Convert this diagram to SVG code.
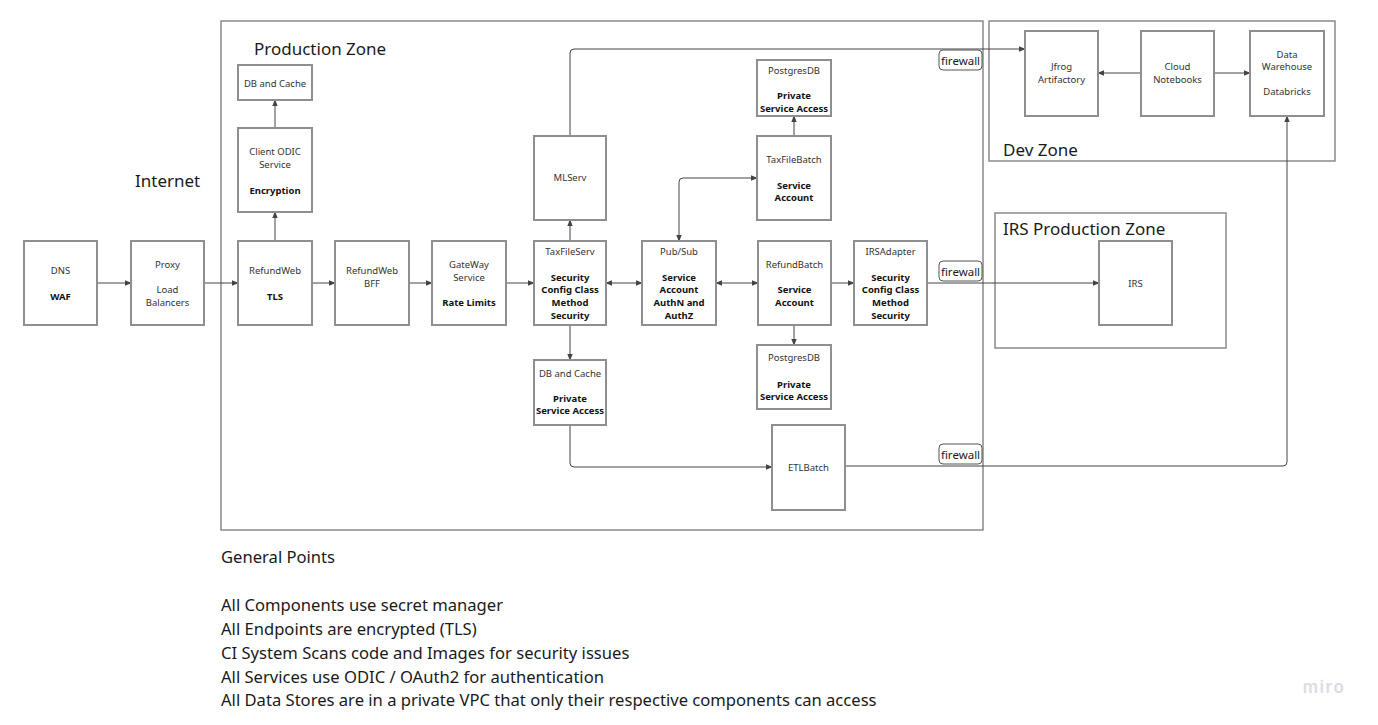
<svg xmlns="http://www.w3.org/2000/svg" width="1378" height="725" viewBox="0 0 1378 725">
<style>
.zone{fill:none;stroke:#8a8a8a;stroke-width:1.5}
.node{fill:#fff;stroke:#8f8f8f;stroke-width:2}
.t{font-family:"Noto Sans","Open Sans",sans-serif;font-size:9.5px;fill:#333;text-anchor:middle}
.b{font-family:"Noto Sans","Open Sans",sans-serif;font-size:9.5px;fill:#111;font-weight:bold;text-anchor:middle}
.zt{font-family:"Noto Sans","Open Sans",sans-serif;font-size:17px;fill:#1a1a1a}
.gp{font-family:"Noto Sans","Open Sans",sans-serif;font-size:16.6px;fill:#1a1a1a}
.fw{fill:#fff;stroke:#555;stroke-width:1}
.fwt{font-family:"Noto Sans","Open Sans",sans-serif;font-size:11.5px;fill:#1a1a1a;text-anchor:middle}
.c{fill:none;stroke:#444;stroke-width:1}
</style>
<defs>
<marker id="ah" viewBox="0 0 10 10" refX="9" refY="5" markerWidth="7" markerHeight="7" orient="auto-start-reverse" markerUnits="userSpaceOnUse">
<path d="M0,1 L10,5 L0,9 z" fill="#444"/>
</marker>
</defs>
<rect width="1378" height="725" fill="#fff"/>

<g id="zones">
<rect class="zone" x="221" y="21" width="762" height="509"/>
<text class="zt" x="254" y="55">Production Zone</text>
<rect class="zone" x="989" y="21" width="346" height="140"/>
<text class="zt" x="1003" y="156">Dev Zone</text>
<rect class="zone" x="995" y="213" width="231" height="135"/>
<text class="zt" x="1003" y="235">IRS Production Zone</text>
<text class="zt" x="135" y="187">Internet</text>
</g>

<g id="connectors">
<line class="c" x1="97" y1="283" x2="131" y2="283" marker-end="url(#ah)"/>
<line class="c" x1="204" y1="283" x2="238" y2="283" marker-end="url(#ah)"/>
<line class="c" x1="312" y1="283" x2="335" y2="283" marker-end="url(#ah)"/>
<line class="c" x1="409" y1="283" x2="432" y2="283" marker-end="url(#ah)"/>
<line class="c" x1="506" y1="283" x2="534" y2="283" marker-end="url(#ah)"/>
<line class="c" x1="606" y1="283" x2="642" y2="283" marker-start="url(#ah)" marker-end="url(#ah)"/>
<line class="c" x1="716" y1="283" x2="758" y2="283" marker-start="url(#ah)" marker-end="url(#ah)"/>
<line class="c" x1="831" y1="283" x2="854" y2="283" marker-end="url(#ah)"/>
<line class="c" x1="927" y1="283" x2="1099" y2="283" marker-end="url(#ah)"/>
<line class="c" x1="275" y1="241" x2="275" y2="212" marker-end="url(#ah)"/>
<line class="c" x1="275" y1="128" x2="275" y2="100" marker-end="url(#ah)"/>
<line class="c" x1="570" y1="241" x2="570" y2="220" marker-end="url(#ah)"/>
<line class="c" x1="570" y1="325" x2="570" y2="360" marker-end="url(#ah)"/>
<path class="c" d="M570,136 V53 Q570,49 574,49 H1025" marker-end="url(#ah)"/>
<line class="c" x1="794" y1="136" x2="794" y2="116" marker-end="url(#ah)"/>
<path class="c" d="M679,241 V182 Q679,178 683,178 H757" marker-start="url(#ah)" marker-end="url(#ah)"/>
<line class="c" x1="794" y1="325" x2="794" y2="345" marker-end="url(#ah)"/>
<path class="c" d="M570,425 V463 Q570,467 574,467 H772" marker-end="url(#ah)"/>
<path class="c" d="M845,466 H1283 Q1287,466 1287,462 V116" marker-end="url(#ah)"/>
<line class="c" x1="1141" y1="73" x2="1098" y2="73" marker-end="url(#ah)"/>
<line class="c" x1="1214" y1="73" x2="1250" y2="73" marker-end="url(#ah)"/>
</g>

<g id="firewall1"><rect class="fw" x="939" y="50" width="43" height="20" rx="4"/><text class="fwt" x="960.5" y="64.5">firewall</text></g>
<g id="firewall2"><rect class="fw" x="939" y="261" width="43" height="20" rx="4"/><text class="fwt" x="960.5" y="275.5">firewall</text></g>
<g id="firewall3"><rect class="fw" x="939" y="444" width="43" height="20" rx="4"/><text class="fwt" x="960.5" y="458.5">firewall</text></g>

<g id="dns"><rect class="node" x="24" y="241" width="73" height="84"/><text class="t" x="60.5" y="274">DNS</text><text class="b" x="60.5" y="300">WAF</text></g>
<g id="proxy"><rect class="node" x="131" y="241" width="73" height="84"/><text class="t" x="167.5" y="268">Proxy</text><text class="t" x="167.5" y="293">Load</text><text class="t" x="167.5" y="306">Balancers</text></g>
<g id="refundweb"><rect class="node" x="238" y="241" width="74" height="84"/><text class="t" x="275" y="274">RefundWeb</text><text class="b" x="275" y="300">TLS</text></g>
<g id="refundwebbff"><rect class="node" x="335" y="241" width="74" height="84"/><text class="t" x="372" y="274">RefundWeb</text><text class="t" x="372" y="287">BFF</text></g>
<g id="gateway"><rect class="node" x="432" y="241" width="74" height="84"/><text class="t" x="469" y="268">GateWay</text><text class="t" x="469" y="281">Service</text><text class="b" x="469" y="306">Rate Limits</text></g>
<g id="taxfileserv"><rect class="node" x="534" y="241" width="72" height="84"/><text class="t" x="570" y="255">TaxFileServ</text><text class="b" x="570" y="281">Security</text><text class="b" x="570" y="293">Config Class</text><text class="b" x="570" y="306">Method</text><text class="b" x="570" y="319">Security</text></g>
<g id="pubsub"><rect class="node" x="642" y="241" width="74" height="84"/><text class="t" x="679" y="255">Pub/Sub</text><text class="b" x="679" y="281">Service</text><text class="b" x="679" y="293">Account</text><text class="b" x="679" y="306">AuthN and</text><text class="b" x="679" y="319">AuthZ</text></g>
<g id="refundbatch"><rect class="node" x="758" y="241" width="73" height="84"/><text class="t" x="794.5" y="268">RefundBatch</text><text class="b" x="794.5" y="293">Service</text><text class="b" x="794.5" y="306">Account</text></g>
<g id="irsadapter"><rect class="node" x="854" y="241" width="73" height="84"/><text class="t" x="890.5" y="255">IRSAdapter</text><text class="b" x="890.5" y="281">Security</text><text class="b" x="890.5" y="293">Config Class</text><text class="b" x="890.5" y="306">Method</text><text class="b" x="890.5" y="319">Security</text></g>
<g id="dbcache1"><rect class="node" x="238" y="65" width="74" height="35"/><text class="t" x="275" y="87">DB and Cache</text></g>
<g id="clientodic"><rect class="node" x="238" y="128" width="74" height="84"/><text class="t" x="275" y="155">Client ODIC</text><text class="t" x="275" y="168">Service</text><text class="b" x="275" y="194">Encryption</text></g>
<g id="mlserv"><rect class="node" x="534" y="136" width="72" height="84"/><text class="t" x="570" y="181">MLServ</text></g>
<g id="postgres1"><rect class="node" x="757" y="60" width="74" height="56"/><text class="t" x="794" y="74">PostgresDB</text><text class="b" x="794" y="99">Private</text><text class="b" x="794" y="112">Service Access</text></g>
<g id="taxfilebatch"><rect class="node" x="757" y="136" width="74" height="84"/><text class="t" x="794" y="163">TaxFileBatch</text><text class="b" x="794" y="189">Service</text><text class="b" x="794" y="201">Account</text></g>
<g id="postgres2"><rect class="node" x="757" y="345" width="74" height="64"/><text class="t" x="794" y="361">PostgresDB</text><text class="b" x="794" y="388">Private</text><text class="b" x="794" y="400">Service Access</text></g>
<g id="dbcache2"><rect class="node" x="534" y="360" width="72" height="65"/><text class="t" x="570" y="377">DB and Cache</text><text class="b" x="570" y="402">Private</text><text class="b" x="570" y="414">Service Access</text></g>
<g id="etlbatch"><rect class="node" x="772" y="425" width="73" height="85"/><text class="t" x="808.5" y="471">ETLBatch</text></g>
<g id="jfrog"><rect class="node" x="1025" y="31" width="73" height="85"/><text class="t" x="1061.5" y="70">Jfrog</text><text class="t" x="1061.5" y="83">Artifactory</text></g>
<g id="notebooks"><rect class="node" x="1141" y="31" width="73" height="85"/><text class="t" x="1177.5" y="70">Cloud</text><text class="t" x="1177.5" y="83">Notebooks</text></g>
<g id="warehouse"><rect class="node" x="1250" y="31" width="74" height="85"/><text class="t" x="1287" y="58">Data</text><text class="t" x="1287" y="70">Warehouse</text><text class="t" x="1287" y="95">Databricks</text></g>
<g id="irs"><rect class="node" x="1099" y="241" width="73" height="84"/><text class="t" x="1135.5" y="287">IRS</text></g>

<g id="notes">
<text class="gp" x="221" y="563">General Points</text>
<text class="gp" x="221" y="611">All Components use secret manager</text>
<text class="gp" x="221" y="635">All Endpoints are encrypted (TLS)</text>
<text class="gp" x="221" y="659">CI System Scans code and Images for security issues</text>
<text class="gp" x="221" y="683">All Services use ODIC / OAuth2 for authentication</text>
<text class="gp" x="221" y="706">All Data Stores are in a private VPC that only their respective components can access</text>
</g>
<text x="1324" y="693" font-family="Inter, 'Noto Sans', sans-serif" font-size="17" font-weight="600" fill="#dcdce4" text-anchor="middle" letter-spacing="1.5">miro</text>
</svg>
